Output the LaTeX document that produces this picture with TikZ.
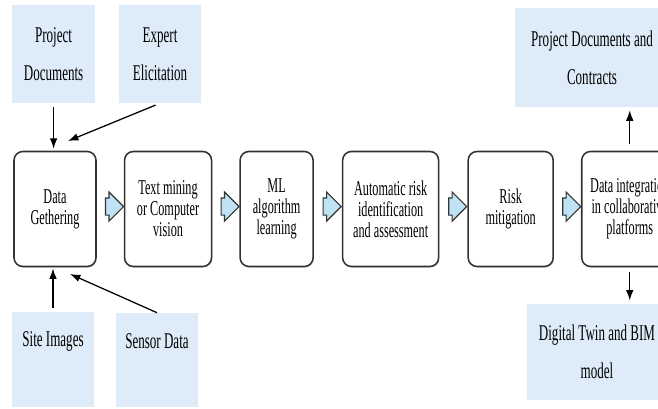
\documentclass[tikz,border=0pt]{standalone}
\usepackage{fontspec}
\setmainfont{Liberation Serif}[FakeStretch=0.58]
\usetikzlibrary{positioning,shapes.arrows,arrows.meta,calc,shadows}
\definecolor{boxblue}{HTML}{DDECF8}
\definecolor{arrowblue}{HTML}{BFE2F4}
\definecolor{edgegray}{HTML}{333333}
\tikzset{
    stage/.style={draw=edgegray, line width=1.1pt, rounded corners=0.22cm, fill=white,
        minimum height=2.875cm, align=center, font=\fontsize{15}{15}\selectfont,
        drop shadow={shadow xshift=0.02cm, shadow yshift=-0.03cm, opacity=0.3}},
    source/.style={fill=boxblue, align=center, inner sep=0pt, font=\fontsize{16}{27}\selectfont},
    blockarr/.style={single arrow, draw=edgegray, fill=arrowblue, line width=0.8pt,
        inner xsep=0.08cm, inner ysep=0.2cm, minimum height=0.45cm, single arrow head extend=0.15cm},
    feed/.style={-{Latex[length=0.26cm,width=0.19cm]}, line width=0.9pt}
}
\begin{document}
\begin{tikzpicture}

    \useasboundingbox (0,0) rectangle (16.45,10.225);
    \clip (0,0) rectangle (16.45,10.225);

    % inputs
    \node[source, minimum width=2.075cm, minimum height=2.45cm] (projdoc) at (1.34,8.875) {Project\\Documents};
    \node[source, minimum width=2.05cm, minimum height=2.45cm] (expert) at (4.0,8.875) {Expert\\Elicitation};
    \node[source, minimum width=2.05cm, text height=0.875cm, text depth=1.5cm] (siteimg) at (1.325,1.2375) {Site Images};
    \node[source, minimum width=2.05cm, text height=0.9cm, text depth=1.45cm] (sensor) at (3.925,1.225) {Sensor Data};

    % outputs
    \node[source, minimum width=3.85cm, minimum height=2.475cm] (contract) at (14.8,8.79) {Project Documents and\\Contracts};
    \node[source, minimum width=3.5cm, minimum height=2.4cm] (twin) at (14.925,1.425) {Digital Twin and BIM\\model};

    % process chain
    \node[stage, minimum width=2.05cm] (gather) at (1.375,5.0) {Data\\Gethering};
    \node[stage, minimum width=2.175cm, right=0.675cm of gather] (mining) {Text mining\\or Computer\\vision};
    \node[stage, minimum width=1.825cm, right=0.675cm of mining] (learn) {ML\\algorithm\\learning};
    \node[stage, minimum width=2.4cm, right=0.7cm of learn] (assess) {Automatic risk\\identification\\and assessment};
    \node[stage, minimum width=2.125cm, right=0.7cm of assess] (mitig) {Risk\\mitigation};
    \node[stage, minimum width=2.4cm, right=0.675cm of mitig] (integr) {Data integration\\in collaborative\\platforms};

    \foreach \a/\b in {gather/mining, mining/learn, learn/assess, assess/mitig, mitig/integr}
        \node[blockarr] (\a-\b) at ($(\a.east)!0.5!(\b.west)+(0,0.06)$) {};

    \coordinate (expert-end) at (1.7,6.7);
    \coordinate (sensor-end) at (1.75,3.375);

    \draw[feed, shorten <=0.1cm, shorten >=0.05cm] (projdoc.south) -- (projdoc.south |- gather.north);
    \draw[feed, shorten <=0.12cm] (expert.south) -- (expert-end);
    \draw[feed, shorten <=0.1cm, shorten >=0.03cm] (siteimg.north) -- (siteimg.north |- gather.south);
    \draw[feed] (sensor.north) -- (sensor-end);
    \draw[feed, shorten <=0.18cm, shorten >=0.08cm] (integr.north) -- (integr.north |- contract.south);
    \draw[feed, shorten <=0.12cm, shorten >=0.08cm] (integr.south) -- (integr.south |- twin.north);

\end{tikzpicture}
\end{document}
